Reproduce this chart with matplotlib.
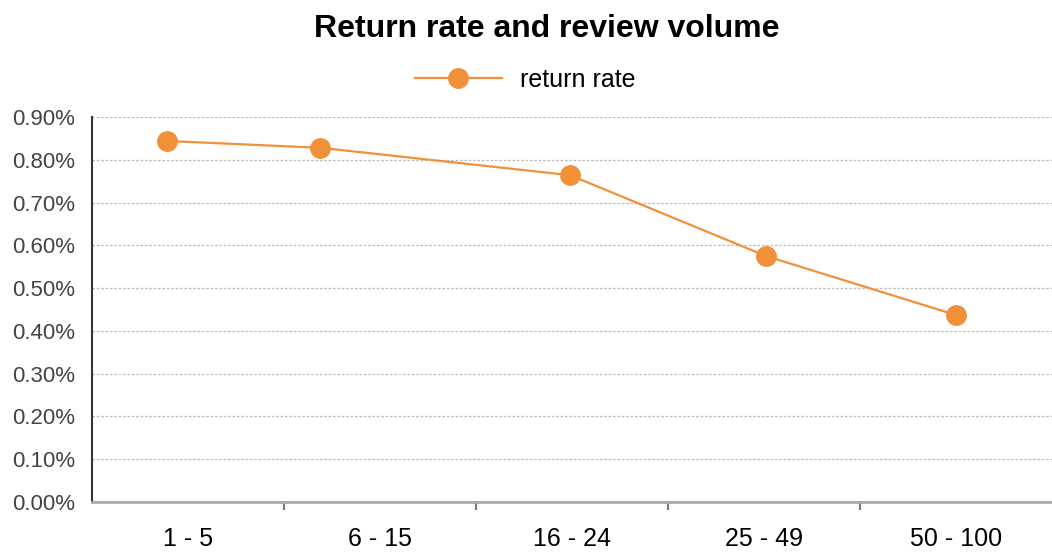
import matplotlib.pyplot as plt
from matplotlib.ticker import FixedLocator, PercentFormatter

plt.rcParams['font.family'] = ['Liberation Sans', 'DejaVu Sans']

# review volume buckets and return rate (%)
categories = ['1 - 5', '6 - 15', '16 - 24', '25 - 49', '50 - 100']
point_x = [-0.11, 0.69, 1.99, 3.01, 4.0]  # where each marker sits along the category axis
return_rate = [0.844, 0.828, 0.764, 0.575, 0.437]
y_ticks = [0.0, 0.1, 0.2, 0.3, 0.4, 0.5, 0.6, 0.7, 0.8, 0.9]

orange = '#F0913A'

fig = plt.figure(figsize=(10.52, 5.53), dpi=100)
ax = fig.add_axes([92 / 1052, 51 / 553, 960 / 1052, 385 / 553])

ax.plot(point_x, return_rate, color=orange, lw=1.6, marker='o', ms=14,
        markerfacecolor=orange, markeredgecolor=orange, label='return rate')

ax.set_xlim(-0.5, 4.5)
ax.set_ylim(0, 0.9)
ax.set_yticks(y_ticks)
ax.yaxis.set_major_formatter(PercentFormatter(decimals=2))
ax.set_xticks(range(len(categories)))
ax.set_xticklabels(categories)
ax.xaxis.set_minor_locator(FixedLocator([0.5, 1.5, 2.5, 3.5]))
ax.tick_params(axis='x', which='major', length=0, pad=18, labelsize=18)
ax.tick_params(axis='x', which='minor', length=6, width=1.5, color='#777777')
ax.tick_params(axis='y', length=0, pad=12, labelsize=16, labelcolor='#444444')

ax.grid(axis='y', color='#bbbbbb', linestyle=(0, (2, 1.5)), lw=0.9)
ax.set_axisbelow(True)
for s in ['top', 'right']:
    ax.spines[s].set_visible(False)
ax.spines['left'].set_color('#333333')
ax.spines['left'].set_linewidth(1.5)
ax.spines['bottom'].set_color('#aaaaaa')
ax.spines['bottom'].set_linewidth(2)

fig.suptitle('Return rate and review volume', x=0.52, y=0.975, fontsize=23,
             fontweight='bold')
fig.legend(loc='center', bbox_to_anchor=(0.499, 0.855), frameon=False,
           fontsize=18, handlelength=3.5, handletextpad=0.7, markerscale=1.0)

fig.savefig('out.png', dpi=100)
